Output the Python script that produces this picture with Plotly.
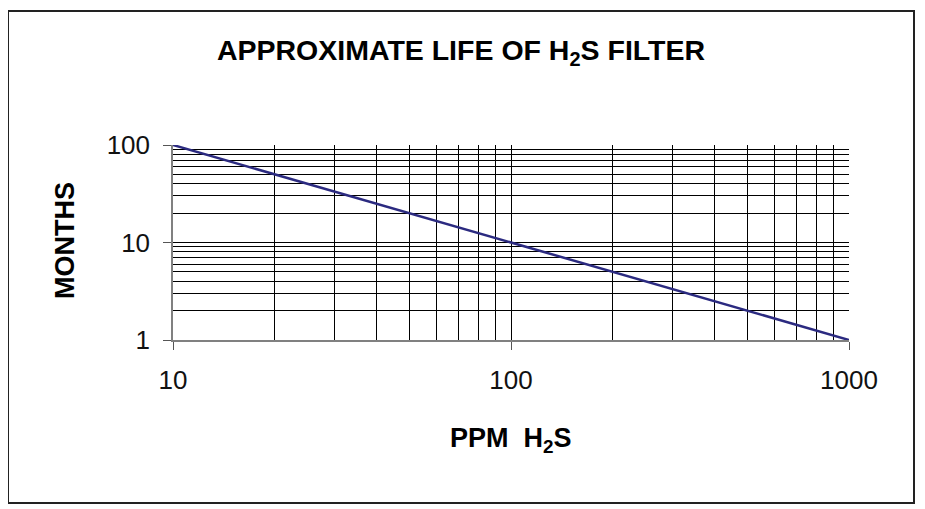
import plotly.graph_objects as go

# Data
ppm = [10, 20, 50, 100, 200, 500, 1000]
months = [100, 50, 20, 10, 5, 2, 1]

x_tick_vals = [10, 100, 1000]
x_tick_text = ["10", "100", "1000"]
y_tick_vals = [1, 10, 100]
y_tick_text = ["1", "10", "100"]
x_grid_vals = [20, 30, 40, 50, 60, 70, 80, 90, 100, 200, 300, 400, 500, 600, 700, 800, 900]
y_grid_vals = [2, 3, 4, 5, 6, 7, 8, 9, 10, 20, 30, 40, 50, 60, 70, 80, 90]

FONT = "Liberation Sans, Arial, sans-serif"

# page body has an 8px default margin; size the figure so it fits the window
W, H = 917, 501
L, T = 165, 137          # plot area top-left inside the figure
PW, PH = 676, 195        # plot area size

fig = go.Figure()
fig.add_trace(go.Scatter(
    x=ppm, y=months, mode="lines",
    line=dict(color="#2b2a80", width=2.5),
    showlegend=False, hoverinfo="skip",
))

axis_common = dict(
    type="log",
    showgrid=False,
    zeroline=False,
    showline=True,
    linecolor="#808080",
    linewidth=1.5,
    ticks="outside",
    ticklen=8,
    tickcolor="#555555",
    tickwidth=1,
    tickfont=dict(family=FONT, size=26, color="#111111"),
)


def px(xp):
    return (xp - L) / PW


def py(yp):
    return (T + PH - yp) / PH


fig.update_layout(
    width=W, height=H,
    margin=dict(l=L, r=W - L - PW, t=T, b=H - T - PH),
    paper_bgcolor="white",
    plot_bgcolor="white",
    title=dict(
        text="<b>APPROXIMATE LIFE OF H<sub>2</sub>S FILTER</b>",
        x=453 / W, xref="container", xanchor="center",
        y=1 - 42 / H, yref="container", yanchor="middle",
        font=dict(family=FONT, size=28.5, color="black"),
    ),
    xaxis=dict(
        **axis_common,
        range=[1, 3],
        tickvals=x_tick_vals, ticktext=x_tick_text,
        ticklabelstandoff=8,
        minor=dict(tickvals=x_grid_vals, showgrid=True, gridcolor="black",
                   gridwidth=1, ticks=""),
    ),
    yaxis=dict(
        **axis_common,
        range=[0, 2],
        tickvals=y_tick_vals, ticktext=y_tick_text,
        ticklabelstandoff=8,
        minor=dict(tickvals=y_grid_vals, showgrid=True, gridcolor="black",
                   gridwidth=1, ticks=""),
    ),
    annotations=[
        dict(text="<b>PPM  H<sub>2</sub>S</b>", xref="paper", yref="paper",
             x=0.5, y=py(432), xanchor="center", yanchor="middle",
             showarrow=False, font=dict(family=FONT, size=27, color="black")),
        dict(text="<b>MONTHS</b>", xref="paper", yref="paper",
             x=px(57), y=py(232), xanchor="center",
             yanchor="middle", textangle=-90, showarrow=False,
             font=dict(family=FONT, size=27, color="black")),
    ],
    shapes=[
        dict(type="rect", xref="paper", yref="paper",
             x0=px(-5), x1=px(913), y0=py(510), y1=py(-4),
             line=dict(color="#8a8a8a", width=2), layer="below"),
        dict(type="rect", xref="paper", yref="paper",
             x0=px(0), x1=px(906), y0=py(495), y1=py(3),
             line=dict(color="#222222", width=2), layer="below"),
    ],
)

fig.write_html("out.html")
